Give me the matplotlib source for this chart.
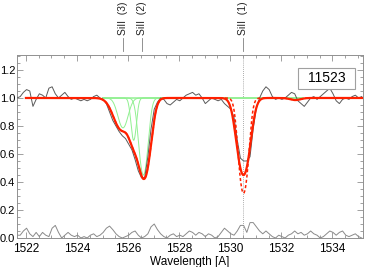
import numpy as np
import matplotlib
matplotlib.use("Agg")
import matplotlib.pyplot as plt
from matplotlib.ticker import MultipleLocator
from matplotlib.patches import Rectangle

plt.rcParams['font.family'] = ['Liberation Sans', 'DejaVu Sans']

# ---- data ----
wl_start, wl_step = 1521.65, 0.125
flux = [1.00, 1.01, 1.04, 1.06, 1.05, 0.94, 0.99, 1.03, 1.02, 1.00,
        1.07, 1.08, 1.03, 1.00, 1.02, 1.04, 1.01, 0.99, 1.00, 0.99,
        0.98, 0.99, 0.98, 0.99, 1.01, 1.02, 1.00, 0.99, 0.96, 0.90,
        0.84, 0.80, 0.76, 0.73, 0.71, 0.67, 0.63, 0.56, 0.48, 0.43,
        0.43, 0.58, 0.78, 0.92, 0.97, 1.00, 0.99, 0.96, 0.95, 0.97,
        0.99, 0.98, 1.00, 1.02, 1.03, 1.04, 1.02, 1.03, 1.00, 0.96,
        0.98, 1.00, 0.99, 0.98, 0.99, 0.96, 0.94, 0.92, 0.86, 0.70,
        0.57, 0.55, 0.55, 0.58, 0.78, 0.93, 1.00, 1.05, 1.08, 1.06,
        1.01, 0.99, 1.00, 0.99, 1.00, 1.02, 1.04, 1.03, 0.98, 0.96,
        0.94, 0.97, 1.00, 1.01, 0.99, 1.01, 1.03, 1.05, 1.07, 1.03,
        0.98, 0.96, 0.99, 1.00, 0.99, 1.01, 1.02, 1.00, 1.01]
noise = [0.02, 0.02, 0.05, 0.07, 0.03, 0.01, 0.04, 0.01, 0.04, 0.02,
         0.01, 0.07, 0.09, 0.04, 0.00, 0.02, 0.04, 0.02, 0.01, 0.02,
         0.00, 0.01, 0.00, 0.02, 0.03, 0.01, 0.02, 0.04, 0.07, 0.085,
         0.06, 0.03, 0.01, 0.00, 0.01, 0.02, 0.04, 0.05, 0.02, 0.00,
         0.01, 0.03, 0.08, 0.10, 0.06, 0.03, 0.01, 0.00, 0.02, 0.03,
         0.01, 0.02, 0.01, 0.03, 0.05, 0.04, 0.02, 0.04, 0.03, 0.01,
         0.03, 0.02, 0.00, 0.01, 0.04, 0.07, 0.05, 0.03, 0.02, 0.05,
         0.09, 0.09, 0.04, 0.11, 0.11, 0.08, 0.05, 0.03, 0.05, 0.03,
         0.01, 0.00, 0.02, 0.01, 0.00, 0.02, 0.03, 0.05, 0.03, 0.04,
         0.02, 0.03, 0.05, 0.03, 0.02, 0.00, 0.01, 0.03, 0.05, 0.04,
         0.02, 0.04, 0.05, 0.02, 0.01, 0.02, 0.03, 0.01, 0.00]

# fitted model components (Gaussian optical depth profiles)
red_center = [1525.75, 1526.20, 1526.63, 1530.52, 1532.55]
red_tau    = [0.26, 0.25, 0.85, 0.80, 0.015]
red_sigma  = [0.30, 0.17, 0.22, 0.23, 0.20]

green_center = [1525.80, 1526.22, 1526.60, 1530.52, 1532.55]
green_tau    = [0.24, 0.36, 0.80, 0.80, 0.015]
green_sigma  = [0.19, 0.10, 0.157, 0.23, 0.20]

dash_center, dash_tau, dash_sigma = 1530.52, 1.14, 0.165

line_labels = ['SiII  (3)', 'SiII  (2)', 'SiII  (1)']
line_waves = [1525.82, 1526.56, 1530.51]
box_label = '11523'

xlim = (1521.65, 1535.2)
ylim = (0.0, 1.307)

# ---- figure ----
fig = plt.figure(figsize=(3.65, 2.67), dpi=100)
ax = fig.add_axes([17/365, 29/267, 346/365, 183/267])

wl = wl_start + wl_step * np.arange(len(flux))
ax.plot(wl, flux, color='#5a5a5a', lw=0.7, zorder=3)
ax.plot(wl, noise, color='#8a8a8a', lw=0.7, zorder=3)

def profile(x, c, t, s):
    return t * np.exp(-(x - c) ** 2 / (2 * s ** 2))

# green components
xg = np.linspace(1525.0, 1532.85, 800)
for c, t, s in zip(green_center, green_tau, green_sigma):
    ax.plot(xg, np.exp(-profile(xg, c, t, s)), color='#90f090', lw=0.7, zorder=2)

# red dashed (intrinsic line 1)
xd = np.linspace(1522.0, xlim[1], 1500)
tau_d = sum(profile(xd, c, t, s) for c, t, s in zip(red_center[:3], red_tau[:3], red_sigma[:3]))
tau_d = tau_d + profile(xd, dash_center, dash_tau, dash_sigma) + profile(xd, red_center[4], red_tau[4], red_sigma[4])
ax.plot(xd, np.exp(-tau_d), color='#ff2000', lw=1.1, ls=(0, (2, 1.5)), zorder=4)

# red solid model
tau_r = sum(profile(xd, c, t, s) for c, t, s in zip(red_center, red_tau, red_sigma))
ax.plot(xd, np.exp(-tau_r), color='#ff2000', lw=1.6, zorder=5)

# dotted vertical line at line 1
ax.axvline(line_waves[2], color='#909090', lw=0.6, ls=(0, (1, 1.5)), zorder=1)

ax.set_xlim(*xlim)
ax.set_ylim(*ylim)
ax.xaxis.set_major_locator(MultipleLocator(2))
ax.xaxis.set_minor_locator(MultipleLocator(0.5))
ax.yaxis.set_major_locator(MultipleLocator(0.2))
ax.yaxis.set_minor_locator(MultipleLocator(0.05))
ax.yaxis.set_major_formatter(matplotlib.ticker.FormatStrFormatter('%.1f'))
ax.tick_params(which='both', direction='in', top=True, right=True,
               color='#909090', labelsize=8.5, labelcolor='black')
ax.tick_params(which='major', length=4.5, width=0.6)
ax.tick_params(which='minor', length=2.2, width=0.6)
ax.tick_params(axis='x', which='major', pad=3.5)
ax.tick_params(axis='y', which='major', pad=1.2, labelsize=8)
for sp in ax.spines.values():
    sp.set_color('#909090')
    sp.set_linewidth(0.7)

ax.set_xlabel('Wavelength [A]', fontsize=8.5, labelpad=0.5)

# line identification labels above the axes
for lab, w in zip(line_labels, line_waves):
    ax.plot([w, w], [1.0 + 4/183, 1.0 + 17/183], transform=ax.get_xaxis_transform(),
            color='#808080', lw=0.6, clip_on=False)
    ax.text(w, 1.0 + 20/183, lab, transform=ax.get_xaxis_transform(),
            rotation=90, ha='center', va='bottom', fontsize=7.5, color='#222222')

# label box
fig.patches.append(Rectangle((298/365, (267-89)/267), 57/365, 21/267,
                             transform=fig.transFigure, facecolor='white',
                             edgecolor='#a0a0a0', lw=0.8, zorder=10))
fig.text(326.5/365, (267-78.5)/267, box_label, ha='center', va='center',
         fontsize=10, zorder=11)

fig.savefig('out.png', dpi=100)
